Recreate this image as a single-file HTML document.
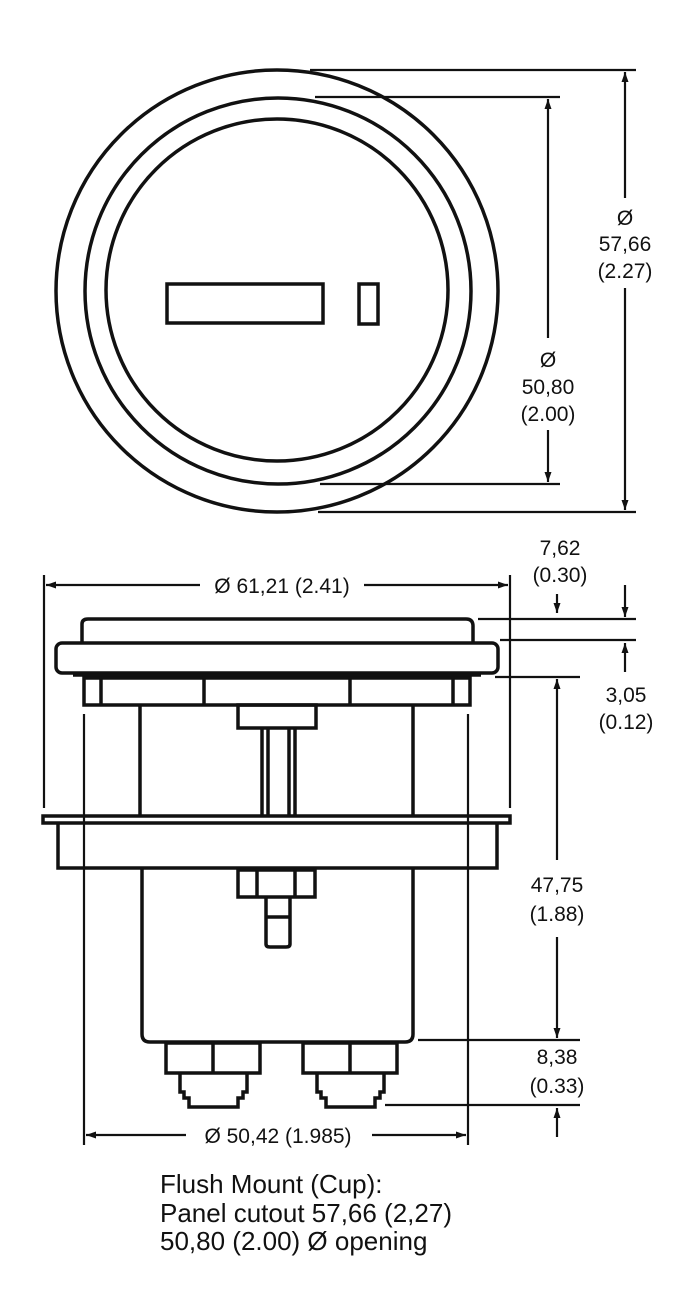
<!DOCTYPE html>
<html><head><style>
html,body{margin:0;padding:0;background:#fff;}
svg{display:block;}
text{font-family:"Liberation Sans",sans-serif;fill:#111;}
</style></head><body>
<svg width="700" height="1316" viewBox="0 0 700 1316" xmlns="http://www.w3.org/2000/svg">
<defs>
<marker id="a" viewBox="0 0 10 10" refX="10" refY="5" markerWidth="12" markerHeight="10" orient="auto-start-reverse" markerUnits="userSpaceOnUse"><path d="M0,1.5 L10,5 L0,8.5 Z" fill="#111"/></marker>
</defs>
<g fill="none" stroke="#111" stroke-width="3.5">
<circle cx="277" cy="291" r="221"/>
<circle cx="278" cy="291" r="193"/>
<circle cx="277" cy="290" r="171"/>
<rect x="167" y="284" width="156" height="39"/>
<rect x="359" y="284" width="19" height="40"/>
</g>
<g stroke="#111" stroke-width="2.2" fill="none">
<line x1="310" y1="70" x2="636" y2="70"/>
<line x1="315" y1="97" x2="560" y2="97"/>
<line x1="320" y1="484" x2="560" y2="484"/>
<line x1="318" y1="512" x2="636" y2="512"/>
<line x1="625" y1="72" x2="625" y2="198" marker-start="url(#a)"/>
<line x1="625" y1="288" x2="625" y2="510" marker-end="url(#a)"/>
<line x1="548" y1="99" x2="548" y2="338" marker-start="url(#a)"/>
<line x1="548" y1="430" x2="548" y2="482" marker-end="url(#a)"/>
</g>
<g font-size="21" text-anchor="middle">
<text x="625" y="225">Ø</text><text x="625" y="251">57,66</text><text x="625" y="278">(2.27)</text>
<text x="548" y="367">Ø</text><text x="548" y="394">50,80</text><text x="548" y="421">(2.00)</text>
</g>
<g fill="none" stroke="#111" stroke-width="3.5">
<path d="M82,642 L82,624 Q82,619 88,619 L466,619 Q473,619 473,626 L473,642"/>
<rect x="56" y="643" width="442" height="30" rx="6"/>
<line x1="73" y1="675" x2="481" y2="675"/>
<rect x="84" y="678" width="386" height="27"/>
<line x1="101" y1="678" x2="101" y2="705"/>
<line x1="204" y1="678" x2="204" y2="705"/>
<line x1="350" y1="678" x2="350" y2="705"/>
<line x1="453" y1="678" x2="453" y2="705"/>
<rect x="238" y="705" width="78" height="23"/>
<line x1="262" y1="728" x2="262" y2="817"/><line x1="268" y1="728" x2="268" y2="817"/>
<line x1="289" y1="728" x2="289" y2="817"/><line x1="295" y1="728" x2="295" y2="817"/>
<line x1="140" y1="705" x2="140" y2="817"/>
<line x1="413" y1="705" x2="413" y2="817"/>
<rect x="43" y="816" width="467" height="7"/>
<path d="M58,823 L58,868 L497,868 L497,823"/>
<path d="M142,868 L142,1034 Q142,1042 150,1042 L405,1042 Q413,1042 413,1034 L413,868"/>
<rect x="238" y="870" width="77" height="27"/>
<line x1="257" y1="870" x2="257" y2="897"/><line x1="295" y1="870" x2="295" y2="897"/>
<path d="M266,897 L266,944 Q266,947 270,947 L286,947 Q290,947 290,944 L290,897"/>
<line x1="266" y1="917" x2="290" y2="917"/>
<rect x="166" y="1043" width="94" height="30"/><line x1="213" y1="1043" x2="213" y2="1073"/>
<path d="M180,1073 L180,1092 L184,1092 L184,1098 L189,1098 L189,1107 L238,1107 L238,1098 L243,1098 L243,1092 L247,1092 L247,1073"/>
<rect x="303" y="1043" width="94" height="30"/><line x1="350" y1="1043" x2="350" y2="1073"/>
<path d="M317,1073 L317,1092 L321,1092 L321,1098 L326,1098 L326,1107 L375,1107 L375,1098 L380,1098 L380,1092 L384,1092 L384,1073"/>
</g>
<g stroke="#111" stroke-width="2.2" fill="none">
<line x1="44" y1="575" x2="44" y2="808"/>
<line x1="510" y1="575" x2="510" y2="808"/>
<line x1="84" y1="714" x2="84" y2="1145"/>
<line x1="468" y1="714" x2="468" y2="1145"/>
<line x1="46" y1="585" x2="200" y2="585" marker-start="url(#a)"/>
<line x1="364" y1="585" x2="508" y2="585" marker-end="url(#a)"/>
<line x1="86" y1="1135" x2="186" y2="1135" marker-start="url(#a)"/>
<line x1="372" y1="1135" x2="466" y2="1135" marker-end="url(#a)"/>
<line x1="478" y1="619" x2="636" y2="619"/>
<line x1="500" y1="640" x2="636" y2="640"/>
<line x1="495" y1="677" x2="580" y2="677"/>
<line x1="418" y1="1040" x2="580" y2="1040"/>
<line x1="385" y1="1105" x2="580" y2="1105"/>
<line x1="557" y1="594" x2="557" y2="613" marker-end="url(#a)"/>
<line x1="625" y1="585" x2="625" y2="617" marker-end="url(#a)"/>
<line x1="625" y1="672" x2="625" y2="643" marker-end="url(#a)"/>
<line x1="557" y1="679" x2="557" y2="860" marker-start="url(#a)"/>
<line x1="557" y1="937" x2="557" y2="1038" marker-end="url(#a)"/>
<line x1="557" y1="1137" x2="557" y2="1108" marker-end="url(#a)"/>
</g>
<g font-size="21" text-anchor="middle">
<text x="282" y="593">Ø 61,21 (2.41)</text>
<text x="278" y="1143">Ø 50,42 (1.985)</text>
<text x="560" y="555">7,62</text><text x="560" y="582">(0.30)</text>
<text x="626" y="702">3,05</text><text x="626" y="729">(0.12)</text>
<text x="557" y="892">47,75</text><text x="557" y="921">(1.88)</text>
<text x="557" y="1064">8,38</text><text x="557" y="1093">(0.33)</text>
</g>
<g font-size="26">
<text x="160" y="1193">Flush Mount (Cup):</text>
<text x="160" y="1222">Panel cutout 57,66 (2,27)</text>
<text x="160" y="1250">50,80 (2.00) Ø opening</text>
</g>
</svg>
</body></html>
